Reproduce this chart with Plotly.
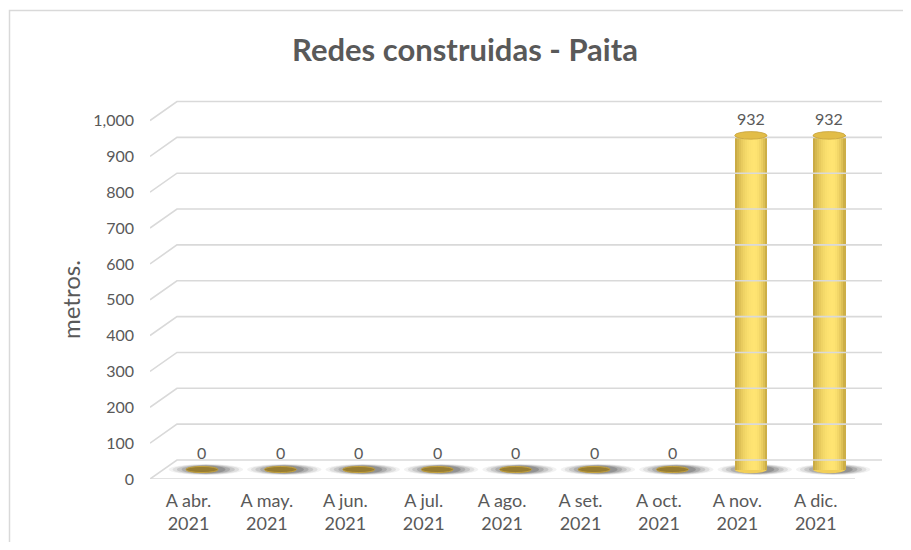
import math
import plotly.graph_objects as go

# data
months = ["A abr.", "A may.", "A jun.", "A jul.", "A ago.", "A set.", "A oct.", "A nov.", "A dic."]
years = ["2021"] * 9
metros = [0, 0, 0, 0, 0, 0, 0, 932, 932]
y_ticks = [0, 100, 200, 300, 400, 500, 600, 700, 800, 900, 1000]

W, H = 911, 550
OFF = 8                      # default body margin of the html page
FW, FH = W - 2 * OFF, H - 2 * OFF
GREY = "#595959"
GRID = "#D9D9D9"
FONT = "Lato"


def px(p):
    return (p - OFF) / FW


def py(p):
    return 1 - (p - OFF) / FH


# fake 3d geometry (mid-depth plane is where the cylinders stand)
X_RANGE = [-0.663, 8.673]
Y_RANGE = [-26.5, 1033.5]
DX, DY = 0.172, 26.5          # half depth of the floor, in axis units
BAR_W = 0.41
LID_H = 21
N_STRIPS = 16

idx = list(range(len(months)))
fig = go.Figure()

# walls / floor gridlines
gx, gy = [], []
for v in y_ticks:
    gx += [X_RANGE[0], X_RANGE[0] + 2 * DX, X_RANGE[1], None]
    gy += [v - DY, v + DY, v + DY, None]
gx += [X_RANGE[0], X_RANGE[1] - 2 * DX, None]
gy += [-DY, -DY, None]
fig.add_trace(go.Scatter(x=gx, y=gy, mode="lines", line=dict(color=GRID, width=1.6),
                         hoverinfo="skip", showlegend=False))


def mix(c1, c2, t):
    a = [int(c1[i:i + 2], 16) for i in (1, 3, 5)]
    b = [int(c2[i:i + 2], 16) for i in (1, 3, 5)]
    return "rgb(%d,%d,%d)" % tuple(round(a[k] + (b[k] - a[k]) * t) for k in range(3))


# cylinder bodies drawn as thin shaded strips
sw = BAR_W / N_STRIPS
for k in range(N_STRIPS):
    t = (k + 0.5) / N_STRIPS
    span = 0.6 if t < 0.6 else 0.4
    b = math.cos((t - 0.6) / span * math.pi / 2 * 0.92)
    col = mix("#B0902F", "#FFE472", max(b, 0) ** 0.7)
    fig.add_trace(go.Bar(x=[i - BAR_W / 2 + (k + 0.5) * sw for i in idx], y=metros,
                         width=sw * 1.2, marker=dict(color=col, line=dict(width=0)),
                         hoverinfo="skip", showlegend=False))

shapes = []
# soft shadows on the floor
for w, h, a in [(0.95, 15, 0.06), (0.85, 14, 0.09), (0.74, 13, 0.12), (0.62, 12, 0.15), (0.5, 11, 0.18)]:
    for i in idx:
        shapes.append(dict(type="circle", xref="x", yref="y", layer="below",
                           x0=i + 0.05 - w / 2, x1=i + 0.05 + w / 2, y0=-h, y1=h,
                           fillcolor="rgba(30,30,30,%.2f)" % a, line=dict(width=0)))
# rounded bottoms and lids
for i, v in zip(idx, metros):
    if v > 0:
        shapes.append(dict(type="circle", xref="x", yref="y", layer="below",
                           x0=i - BAR_W / 2, x1=i + BAR_W / 2, y0=-LID_H / 2, y1=LID_H / 2,
                           fillcolor="#F2CF58", line=dict(width=0)))
        shapes.append(dict(type="circle", xref="x", yref="y", layer="above",
                           x0=i - BAR_W / 2, x1=i + BAR_W / 2, y0=v - LID_H / 2, y1=v + LID_H / 2,
                           fillcolor="#E2BD48", line=dict(color="#C7A23C", width=0.8)))
    else:
        shapes.append(dict(type="circle", xref="x", yref="y", layer="above",
                           x0=i - BAR_W / 2, x1=i + BAR_W / 2, y0=v - LID_H / 2 + 2, y1=v + LID_H / 2 - 2,
                           fillcolor="#977D33", line=dict(color="#C4A23E", width=1)))
# chart frame
shapes.append(dict(type="rect", xref="paper", yref="paper", x0=px(9.5), x1=1.05,
                   y0=-0.05, y1=py(10.5), line=dict(color=GRID, width=1.5), layer="below"))

# value labels
annotations = [dict(x=i, y=v, xref="x", yref="y", text=str(v), showarrow=False,
                    yshift=17, yanchor="middle", font=dict(family=FONT, size=16, color=GREY))
               for i, v in zip(idx, metros)]
annotations.append(dict(text="metros.", xref="paper", yref="paper", x=px(70), y=py(300),
                        textangle=-90, showarrow=False, xanchor="center", yanchor="middle",
                        font=dict(family=FONT, size=24, color=GREY)))

fig.update_layout(
    width=FW, height=FH,
    margin=dict(l=0, r=0, t=0, b=0),
    paper_bgcolor="white", plot_bgcolor="rgba(0,0,0,0)",
    barmode="overlay", bargap=0,
    title=dict(text="<b>Redes construidas - Paita</b>", x=px(465), xanchor="center",
               y=py(50), yanchor="middle", font=dict(family=FONT, size=31, color=GREY)),
    xaxis=dict(domain=[px(150), px(882)], range=X_RANGE, showgrid=False, zeroline=False,
               showline=False, ticks="", tickvals=[i - DX for i in idx], automargin=False,
               ticktext=[m + "<br>" + y for m, y in zip(months, years)],
               tickfont=dict(family=FONT, size=18, color=GREY), ticklabelstandoff=9),
    yaxis=dict(domain=[py(479), py(99)], range=Y_RANGE, showgrid=False, zeroline=False,
               showline=False, ticks="", tickvals=[v - DY for v in y_ticks], automargin=False,
               ticktext=[f"{v:,}" for v in y_ticks],
               tickfont=dict(family=FONT, size=16, color=GREY), ticklabelstandoff=15),
    shapes=shapes,
    annotations=annotations,
)

fig.write_html("out.html")
